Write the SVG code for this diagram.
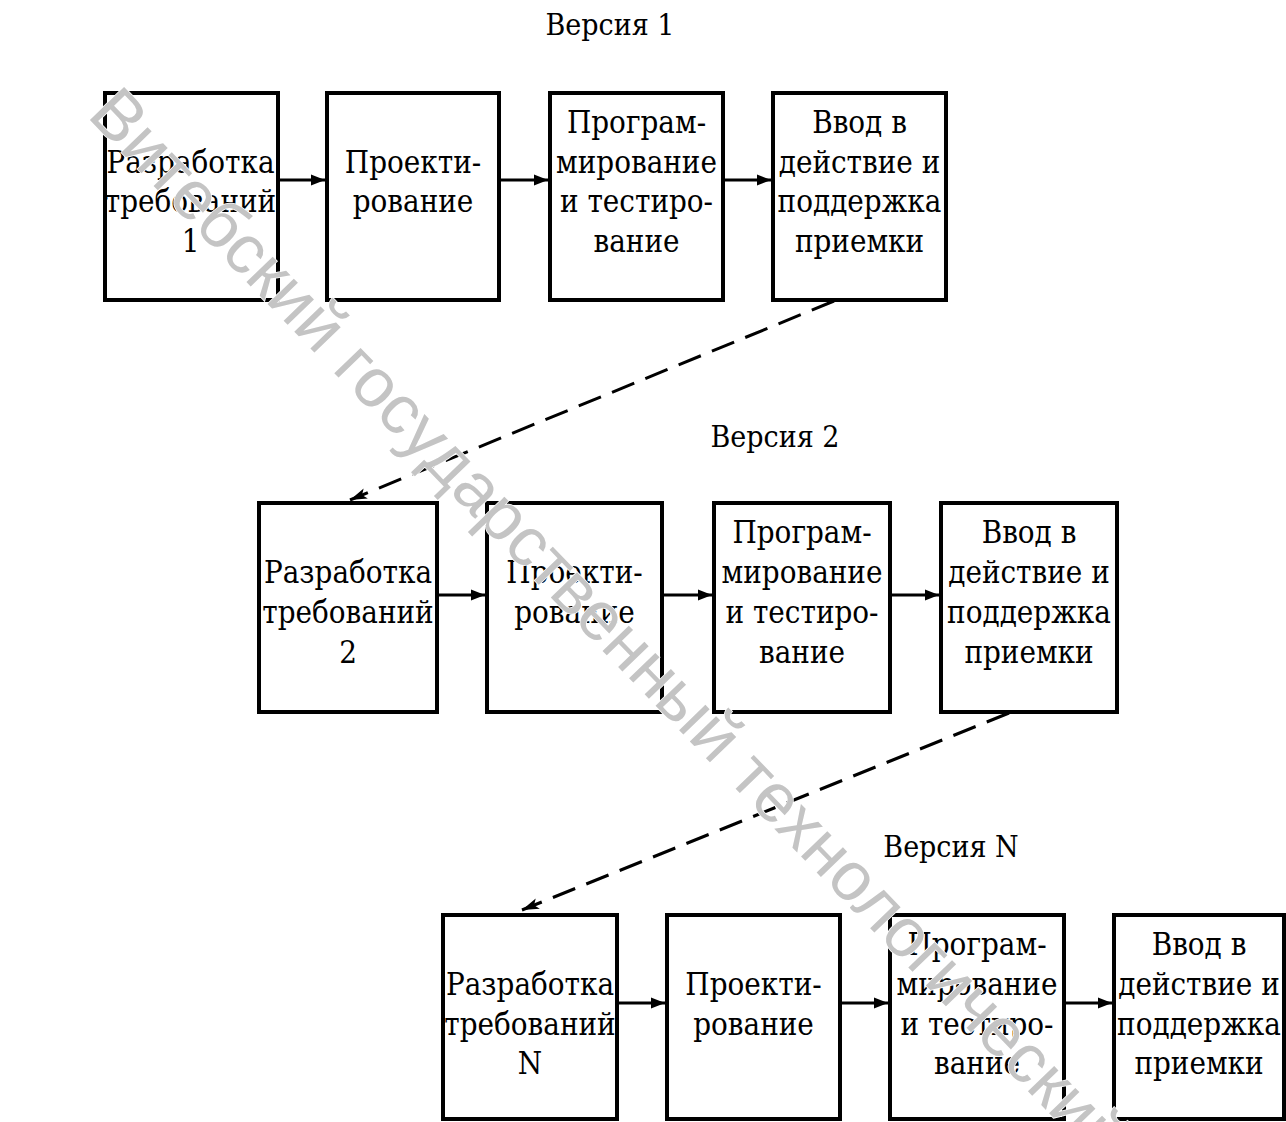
<svg xmlns="http://www.w3.org/2000/svg" width="1286" height="1122" viewBox="0 0 1286 1122">
  <style>
    .box { fill: #fff; stroke: #000; stroke-width: 4; }
    .lbl { font-family: 'DejaVu Serif', 'Liberation Serif', serif; font-stretch: condensed; font-size: 31px; fill: #000; text-anchor: middle; }
    .ver { font-family: 'DejaVu Serif', 'Liberation Serif', serif; font-stretch: condensed; font-size: 30px; fill: #000; text-anchor: middle; }
    .flow { stroke: #000; stroke-width: 3; fill: none; }
    .next { stroke: #000; stroke-width: 3; fill: none; stroke-dasharray: 24 12; }
    .wm { font-family: 'Liberation Sans', Arial, sans-serif; font-size: 69px; fill: #c4c4c4; stroke: #fff; stroke-width: 1.5; paint-order: stroke; }
  </style>
  <defs>
    <marker id="head" markerUnits="userSpaceOnUse" markerWidth="14" markerHeight="12" refX="14" refY="6" orient="auto">
      <path d="M0,0.5 L14,6 L0,11.5 z" fill="#000"/>
    </marker>
    <marker id="headDash" markerUnits="userSpaceOnUse" markerWidth="18" markerHeight="12" refX="17" refY="6" orient="auto">
      <path d="M0,0.5 L17,6 L0,11.5 L4,6 z" fill="#000"/>
    </marker>
  </defs>

  <rect width="1286" height="1122" fill="#fff"/>

  <!-- version captions -->
  <text class="ver" x="610" y="35">Версия 1</text>
  <text class="ver" x="775" y="447">Версия 2</text>
  <text class="ver" x="951" y="857">Версия N</text>

  <!-- Version 1 -->
  <g id="v1-req">
    <rect class="box" x="105" y="93" width="173" height="207"/>
    <text class="lbl"><tspan x="190.5" y="173">Разработка</tspan><tspan x="190.5" y="212">требований</tspan><tspan x="190.5" y="252">1</tspan></text>
  </g>
  <g id="v1-design">
    <rect class="box" x="327" y="93" width="172" height="207"/>
    <text class="lbl"><tspan x="413" y="173">Проекти-</tspan><tspan x="413" y="212">рование</tspan></text>
  </g>
  <g id="v1-code">
    <rect class="box" x="550" y="93" width="173" height="207"/>
    <text class="lbl"><tspan x="636.5" y="133">Програм-</tspan><tspan x="636.5" y="173">мирование</tspan><tspan x="636.5" y="212">и тестиро-</tspan><tspan x="636.5" y="252">вание</tspan></text>
  </g>
  <g id="v1-deploy">
    <rect class="box" x="773" y="93" width="173" height="207"/>
    <text class="lbl"><tspan x="859.5" y="133">Ввод в</tspan><tspan x="859.5" y="173">действие и</tspan><tspan x="859.5" y="212">поддержка</tspan><tspan x="859.5" y="252">приемки</tspan></text>
  </g>

  <!-- Version 2 -->
  <g id="v2-req">
    <rect class="box" x="259" y="503" width="178" height="209"/>
    <text class="lbl"><tspan x="348" y="583">Разработка</tspan><tspan x="348" y="623">требований</tspan><tspan x="348" y="663">2</tspan></text>
  </g>
  <g id="v2-design">
    <rect class="box" x="487" y="503" width="175" height="209"/>
    <text class="lbl"><tspan x="574.5" y="583">Проекти-</tspan><tspan x="574.5" y="623">рование</tspan></text>
  </g>
  <g id="v2-code">
    <rect class="box" x="714" y="503" width="176" height="209"/>
    <text class="lbl"><tspan x="802" y="543">Програм-</tspan><tspan x="802" y="583">мирование</tspan><tspan x="802" y="623">и тестиро-</tspan><tspan x="802" y="663">вание</tspan></text>
  </g>
  <g id="v2-deploy">
    <rect class="box" x="941" y="503" width="176" height="209"/>
    <text class="lbl"><tspan x="1029" y="543">Ввод в</tspan><tspan x="1029" y="583">действие и</tspan><tspan x="1029" y="623">поддержка</tspan><tspan x="1029" y="663">приемки</tspan></text>
  </g>

  <!-- Version N -->
  <g id="vn-req">
    <rect class="box" x="443" y="915" width="174" height="204"/>
    <text class="lbl"><tspan x="530" y="995">Разработка</tspan><tspan x="530" y="1035">требований</tspan><tspan x="530" y="1074">N</tspan></text>
  </g>
  <g id="vn-design">
    <rect class="box" x="667" y="915" width="173" height="204"/>
    <text class="lbl"><tspan x="753.5" y="995">Проекти-</tspan><tspan x="753.5" y="1035">рование</tspan></text>
  </g>
  <g id="vn-code">
    <rect class="box" x="890" y="915" width="174" height="204"/>
    <text class="lbl"><tspan x="977" y="955">Програм-</tspan><tspan x="977" y="995">мирование</tspan><tspan x="977" y="1035">и тестиро-</tspan><tspan x="977" y="1074">вание</tspan></text>
  </g>
  <g id="vn-deploy">
    <rect class="box" x="1114" y="915" width="170" height="204"/>
    <text class="lbl"><tspan x="1199" y="955">Ввод в</tspan><tspan x="1199" y="995">действие и</tspan><tspan x="1199" y="1035">поддержка</tspan><tspan x="1199" y="1074">приемки</tspan></text>
  </g>

  <!-- connectors -->
  <g id="connectors">
    <line class="flow" x1="278" y1="180" x2="325" y2="180" marker-end="url(#head)"/>
    <line class="flow" x1="501" y1="180" x2="548" y2="180" marker-end="url(#head)"/>
    <line class="flow" x1="725" y1="180" x2="771" y2="180" marker-end="url(#head)"/>

    <line class="flow" x1="439" y1="595" x2="485" y2="595" marker-end="url(#head)"/>
    <line class="flow" x1="664" y1="595" x2="712" y2="595" marker-end="url(#head)"/>
    <line class="flow" x1="892" y1="595" x2="939" y2="595" marker-end="url(#head)"/>

    <line class="flow" x1="619" y1="1003" x2="665" y2="1003" marker-end="url(#head)"/>
    <line class="flow" x1="842" y1="1003" x2="888" y2="1003" marker-end="url(#head)"/>
    <line class="flow" x1="1066" y1="1003" x2="1112" y2="1003" marker-end="url(#head)"/>

    <line class="next" x1="834" y1="301" x2="350" y2="500" marker-end="url(#headDash)"/>
    <line class="next" x1="1009" y1="713" x2="522" y2="910" marker-end="url(#headDash)"/>
  </g>

  <!-- institutional watermark -->
  <text class="wm" transform="translate(86,116) rotate(46)">Витебский государственный технологический университет</text>
</svg>
